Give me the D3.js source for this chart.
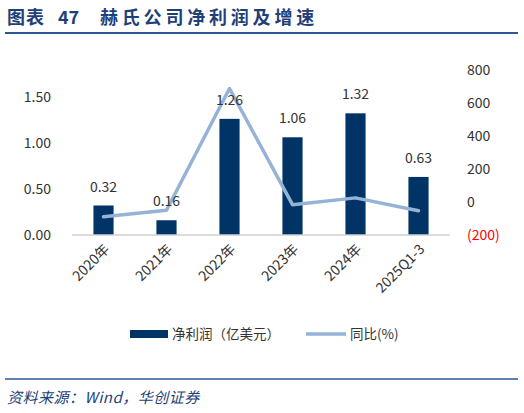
<!DOCTYPE html>
<html>
<head>
<meta charset="utf-8">
<script src="https://cdn.jsdelivr.net/npm/d3@7"></script>
<style>
  body { margin: 0; background: #fff; }
  text { font-family: "Noto Sans CJK SC", "Noto Sans", sans-serif; }
</style>
</head>
<body>
<div id="chart"></div>
<script>
// data
const categories = ['2020年', '2021年', '2022年', '2023年', '2024年', '2025Q1-3'];
const netProfit = [0.32, 0.16, 1.26, 1.06, 1.32, 0.63];   // 亿美元
const yoy = [-90, -50, 688, -16, 25, -53];                 // %
const leftTicks = [0, 0.5, 1.0, 1.5];
const rightTicks = [-200, 0, 200, 400, 600, 800];

const width = 524, height = 413;
const plot = { left: 72, right: 450, top: 70, bottom: 235 };

const svg = d3.select('#chart')
  .append('svg')
  .attr('width', width)
  .attr('height', height);

// title, in three pieces to keep the wide gaps
const title = svg.append('g')
  .attr('fill', '#1f3f77')
  .style('font-size', '18px')
  .style('font-weight', 'bold');
title.append('text').attr('x', 7).attr('y', 24)
  .style('letter-spacing', '1px').text('图表');
title.append('text').attr('x', 58).attr('y', 24).text('47');
title.append('text').attr('x', 100).attr('y', 24)
  .style('letter-spacing', '3.8px').text('赫氏公司净利润及增速');

svg.append('line')
  .attr('x1', 5).attr('x2', 518)
  .attr('y1', 33).attr('y2', 33)
  .attr('stroke', '#2f5597').attr('stroke-width', 2);

const x = d3.scaleBand()
  .domain(categories)
  .range([plot.left, plot.right])
  .paddingInner(0.68)
  .paddingOuter(0.34);

const yL = d3.scaleLinear()
  .domain([0, 1.79])
  .range([plot.bottom, plot.top]);

const yR = d3.scaleLinear()
  .domain([-200, 800])
  .range([plot.bottom, plot.top]);

// left axis
const leftAxis = svg.append('g')
  .attr('transform', `translate(${plot.left - 18},0)`)
  .call(d3.axisLeft(yL).tickValues(leftTicks).tickFormat(d3.format('.2f')).tickSize(0));
leftAxis.select('.domain').remove();
leftAxis.selectAll('text')
  .attr('fill', '#333')
  .style('font-size', '14px');

// right axis
const rightAxis = svg.append('g')
  .attr('transform', `translate(${plot.right + 14},0)`)
  .call(d3.axisRight(yR).tickValues(rightTicks)
    .tickFormat(d => d < 0 ? `(${Math.abs(d)})` : d).tickSize(0));
rightAxis.select('.domain').remove();
rightAxis.selectAll('text')
  .attr('fill', d => d < 0 ? '#ff0000' : '#333')
  .style('font-size', '14px');

// bars
svg.selectAll('rect.bar')
  .data(netProfit)
  .enter()
  .append('rect')
  .attr('class', 'bar')
  .attr('x', (d, i) => x(categories[i]))
  .attr('y', d => yL(d))
  .attr('width', x.bandwidth())
  .attr('height', d => yL(0) - yL(d))
  .attr('fill', '#003366');

// baseline
svg.append('line')
  .attr('x1', plot.left).attr('x2', plot.right)
  .attr('y1', yL(0)).attr('y2', yL(0))
  .attr('stroke', '#d0d0d0').attr('stroke-width', 1.5);

// yoy line
const line = d3.line()
  .x((d, i) => x(categories[i]) + x.bandwidth() / 2)
  .y(d => yR(d));

svg.append('path')
  .datum(yoy)
  .attr('d', line)
  .attr('fill', 'none')
  .attr('stroke', '#95b3d7')
  .attr('stroke-width', 3.5)
  .attr('stroke-linejoin', 'round')
  .attr('stroke-linecap', 'round');

// value labels
svg.selectAll('text.val')
  .data(netProfit)
  .enter()
  .append('text')
  .attr('class', 'val')
  .attr('x', (d, i) => x(categories[i]) + x.bandwidth() / 2)
  .attr('y', d => yL(d) - 14)
  .attr('text-anchor', 'middle')
  .attr('fill', '#333')
  .style('font-size', '14px')
  .text(d => d.toFixed(2));

// x labels
svg.selectAll('text.cat')
  .data(categories)
  .enter()
  .append('text')
  .attr('class', 'cat')
  .attr('text-anchor', 'end')
  .attr('fill', '#333')
  .style('font-size', '14px')
  .attr('transform', d => `translate(${x(d) + x.bandwidth() / 2 + 7},${plot.bottom + 15}) rotate(-45)`)
  .text(d => d);

// legend
const legend = svg.append('g');
legend.append('rect')
  .attr('x', 130).attr('y', 330)
  .attr('width', 38).attr('height', 8)
  .attr('fill', '#003366');
legend.append('text')
  .attr('x', 172).attr('y', 339)
  .attr('fill', '#333')
  .style('font-size', '13.5px')
  .text('净利润（亿美元）');
legend.append('line')
  .attr('x1', 306).attr('x2', 346)
  .attr('y1', 334).attr('y2', 334)
  .attr('stroke', '#95b3d7').attr('stroke-width', 3.5);
legend.append('text')
  .attr('x', 350).attr('y', 339)
  .attr('fill', '#333')
  .style('font-size', '13.5px')
  .text('同比(%)');

// footer
svg.append('line')
  .attr('x1', 5).attr('x2', 518)
  .attr('y1', 379).attr('y2', 379)
  .attr('stroke', '#2f5597').attr('stroke-width', 1.5);

svg.append('text')
  .attr('x', 7).attr('y', 403)
  .attr('fill', '#1f3f77')
  .style('font-size', '15px')
  .style('font-style', 'italic')
  .style('letter-spacing', '0.5px')
  .text('资料来源：Wind，华创证券');
</script>
</body>
</html>
